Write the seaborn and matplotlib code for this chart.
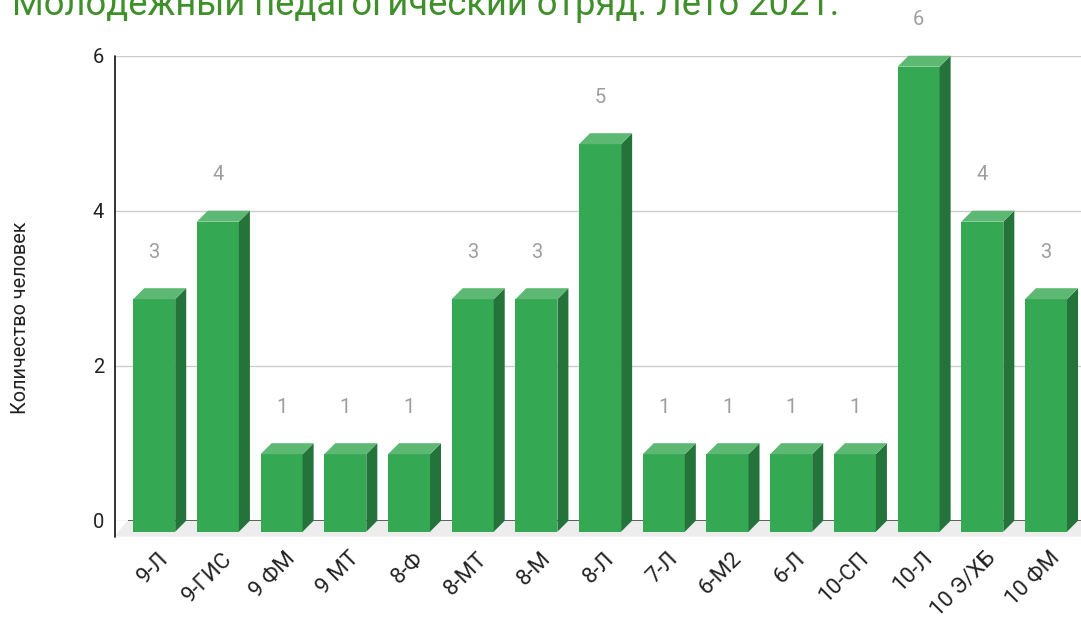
import matplotlib
matplotlib.use('Agg')
import matplotlib.pyplot as plt
import seaborn as sns
import pandas as pd
from matplotlib.patches import Polygon

# ---- data ----
categories = ['9-Л', '9-ГИС', '9 ФМ', '9 МТ', '8-Ф', '8-МТ', '8-М', '8-Л',
              '7-Л', '6-М2', '6-Л', '10-СП', '10-Л', '10 Э/ХБ', '10 ФМ']
counts = [3, 4, 1, 1, 1, 3, 3, 5, 1, 1, 1, 1, 6, 4, 3]
title_text = 'Молодежный педагогический отряд. Лето 2021.'
y_label = 'Количество человек'
y_ticks = [0, 2, 4, 6]

# ---- style ----
sns.set_style('white')
plt.rcParams['font.family'] = ['Roboto', 'DejaVu Sans']

FRONT = '#34a853'
SIDE = '#24733b'
TOP = '#5cb873'
LABEL_GRAY = '#9e9e9e'
TITLE_GREEN = '#3f8f2a'

W, H = 1081, 621
fig = plt.figure(figsize=(W / 100, H / 100), dpi=100)
ax_l, ax_r, ax_t, ax_b = 115.0, 1081.0, 55.7, 520.7
ax = fig.add_axes([ax_l / W, 1 - ax_b / H, (ax_r - ax_l) / W, (ax_b - ax_t) / H])

df = pd.DataFrame({'cat': categories, 'n': counts})
sns.barplot(data=df, x='cat', y='n', color=FRONT, width=0.66, saturation=1,
            errorbar=None, ax=ax, zorder=3, linewidth=0)

px_per_cat = 63.7
first_center_px = 165.2
x0 = (ax_l - first_center_px) / px_per_cat
x1 = (ax_r - first_center_px) / px_per_cat
ax.set_xlim(x0, x1)
ax.set_ylim(0, 6)
px_per_unit = (ax_b - ax_t) / 6.0
dx = 11.0 / px_per_cat
dy = 11.0 / px_per_unit

# grid
ax.set_yticks(y_ticks)
ax.yaxis.grid(True, color='#cccccc', lw=1.0, zorder=0)
ax.xaxis.grid(False)
for s in ax.spines.values():
    s.set_visible(False)

# floor
fx = (128 - first_center_px) / px_per_cat
floor = Polygon([(fx, 0), (x1 + 1, 0), (x1 + 1 - dx, -dy * 1.45), (fx - dx * 1.3, -dy * 1.45)],
                closed=True, facecolor='#ededed', edgecolor='none', zorder=1, clip_on=False)
ax.add_patch(floor)
ax.plot([fx, x1], [0, 0], color='#444444', lw=1.2, zorder=2, solid_capstyle='butt')

# 3D bars
for p, v in zip(list(ax.patches)[:len(counts)], counts):
    bx = p.get_x()
    w = p.get_width()
    h = p.get_height()
    p.set_x(bx - dx)
    p.set_y(-dy)
    p.set_clip_on(False)
    xl = bx - dx
    xr = xl + w
    side = Polygon([(xr, -dy), (xr, h - dy), (xr + dx, h), (xr + dx, 0)], closed=True,
                   facecolor=SIDE, edgecolor='none', zorder=3, clip_on=False)
    top = Polygon([(xl, h - dy), (xr, h - dy), (xr + dx, h), (xl + dx, h)], closed=True,
                  facecolor=TOP, edgecolor='none', zorder=3, clip_on=False)
    ax.add_patch(side)
    ax.add_patch(top)
    ax.text(xl + w / 2, h + 36.0 / px_per_unit, str(v), ha='center', va='center',
            color=LABEL_GRAY, fontsize=14.5)

# left axis line
ax.plot([x0, x0], [-16.0 / px_per_unit, 6], color='#222222', lw=1.3, clip_on=False, zorder=4)

# ticks
ax.tick_params(axis='y', length=0, pad=8, labelsize=14.5, labelcolor='#222222')
ax.set_xticks(range(len(categories)))
ax.set_xticklabels(categories, rotation=45, ha='right', va='center',
                   rotation_mode='anchor', fontsize=16, color='#222222')
ax.tick_params(axis='x', length=0, pad=25)

ax.set_xlabel('')
ax.set_ylabel(y_label, fontsize=14.3, color='#222222')
ax.yaxis.label.set_verticalalignment('center')
ax.yaxis.set_label_coords((20.5 - ax_l) / (ax_r - ax_l), (ax_b - 318) / (ax_b - ax_t))

# title (fit to reference width)
t = fig.text(12 / W, 1 - 15 / H, title_text, color=TITLE_GREEN, fontsize=20,
             ha='left', va='baseline')
r = fig.canvas.get_renderer()
wpx = t.get_window_extent(renderer=r).width
t.set_fontsize(20 * 828.0 / wpx)

fig.savefig('out.png', dpi=100)
